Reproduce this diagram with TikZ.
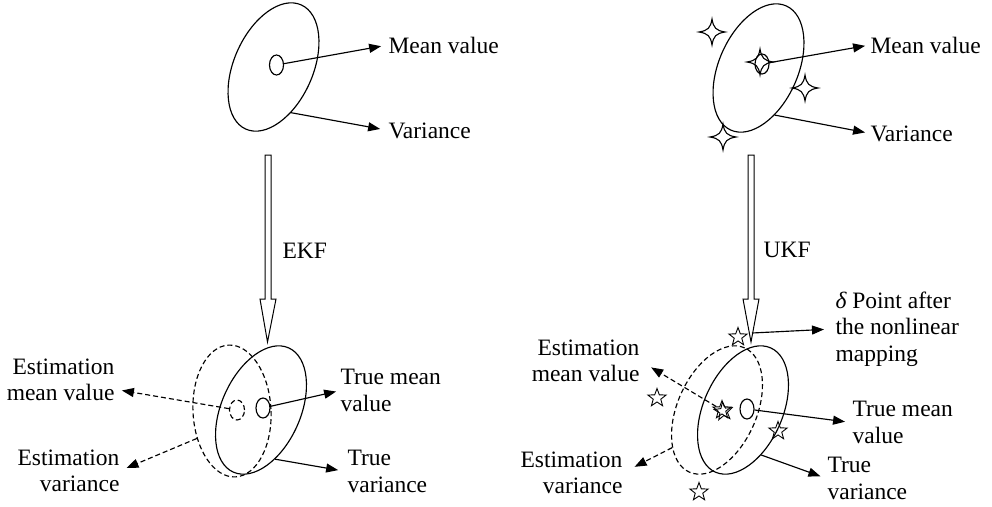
\documentclass[tikz,border=0pt]{standalone}
\usepackage{fontspec}
\setmainfont{Liberation Serif}
\usetikzlibrary{arrows.meta,shapes.geometric,calc}
\tikzset{
  spark/.pic={\draw[line width=1.1pt] (0,-13) .. controls (1.5,-4) and (4,-1.5) .. (13,0) .. controls (4,1.5) and (1.5,4) .. (0,13) .. controls (-1.5,4) and (-4,1.5) .. (-13,0) .. controls (-4,-1.5) and (-1.5,-4) .. cycle;},
}
\begin{document}
\begin{tikzpicture}[x=1pt,y=-1pt,line width=1.15pt,
  every node/.style={font=\fontsize{23.5}{26.5}\selectfont, inner sep=0pt},
  bigoval/.style={ellipse, draw, minimum width=136pt, minimum height=79pt, rotate=66},
  dot/.style={ellipse, draw, minimum width=14pt, minimum height=20pt},
  sstar/.style={star, star points=5, star point ratio=2.4, draw, minimum size=19pt, line width=0.9pt},
  dsh/.style={dash pattern=on 5pt off 3pt},
  conn/.style={-{Triangle[length=12pt,width=9pt]}},
  dconn/.style={conn, dsh},
  hollow/.style={draw, line width=1pt, line join=miter}]
\useasboundingbox (0,0) rectangle (992,506);

% ---------- top left ----------
\node[bigoval] (e1) at (273.5,67) {};
\node[dot] (m1) at (276.5,65) {};
\node[anchor=base west] (mv1) at (388,53) {Mean value};
\node[anchor=base west] (va1) at (388,138) {Variance};
\draw[conn, shorten >=7pt] (m1) -- (mv1.west);
\draw[conn, shorten >=8pt] (e1.225) -- (va1.west);

% ---------- top right ----------
\node[bigoval] (e2) at (758.5,68) {};
\node[dot] (m2) at (762,64) {};
\pic at (712,32) {spark};
\pic at (805,88) {spark};
\pic at (723,137) {spark};
\pic at (760,62) {spark};
\node[anchor=base west] (mv2) at (870,53) {Mean value};
\node[anchor=base west] (va2) at (870,141) {Variance};
\draw[conn, shorten >=5pt] (m2) -- (mv2.west);
\draw[conn, shorten >=5pt] (e2.223) -- (va2.west);

% ---------- hollow arrows ----------
\coordinate (ekfT) at (268,155);
\coordinate (ekfH) at (268,299);
\coordinate (ekfB) at (267.5,342);
\path[hollow] ($(ekfT)+(-3,0)$) -- ($(ekfT)+(3,0)$) -- ($(ekfH)+(3,0)$) -- ($(ekfH)+(8,0)$) -- (ekfB) -- ($(ekfH)+(-8,0)$) -- ($(ekfH)+(-3,0)$) -- cycle;
\node[anchor=base west] (ekf) at (282,258) {EKF};

\coordinate (ukfT) at (751,155);
\coordinate (ukfH) at (751,299);
\coordinate (ukfB) at (751,342);
\path[hollow] ($(ukfT)+(-3,0)$) -- ($(ukfT)+(3,0)$) -- ($(ukfH)+(3,0)$) -- ($(ukfH)+(8,0)$) -- (ukfB) -- ($(ukfH)+(-8,0)$) -- ($(ukfH)+(-3,0)$) -- cycle;
\node[anchor=base west] (ukf) at (763,257) {UKF};

% ---------- bottom left ----------
\node[ellipse, draw, dsh, minimum width=78pt, minimum height=132pt, rotate=3] (d3) at (232,411) {};
\node[bigoval] (e3) at (261,410) {};
\node[dot, dsh, minimum width=15pt] (dm3) at (237,410) {};
\node[dot] (m3) at (263,408) {};
\node[anchor=north east, align=right] (em3) at (115,358) {Estimation\\mean value};
\node[anchor=north east, align=right] (ev3) at (120,449) {Estimation\\variance};
\node[anchor=north west, align=left] (tm3) at (340,369) {True mean\\value};
\node[anchor=north west, align=left] (tv3) at (347,450) {True\\variance};
\draw[dconn, shorten >=7pt] (dm3) -- (em3.-10);
\draw[dconn, shorten >=7pt] (d3.215) -- (ev3.east);
\draw[conn, shorten >=4pt] (m3) -- (tm3.west);
\draw[conn, shorten >=9pt] (e3.220) -- (tv3.west);

% ---------- bottom right ----------
\node[bigoval, dsh] (d4) at (717,410) {};
\node[bigoval] (e4) at (743,410) {};
\node[dot] (m4) at (747,409) {};
\node[sstar] (s1) at (738,337) {};
\node[sstar] (s2) at (722,410) {};
\node[sstar, rotate=6] (s2b) at (723.5,411.5) {};
\node[sstar] (s3) at (778,431) {};
\node[sstar] (s4) at (657,398) {};
\node[sstar] (s5) at (699,492) {};
\node[anchor=north west, align=left] (pt4) at (835,291) {{\itshape δ} Point after\\the nonlinear\\mapping};
\node[anchor=north west, align=left] (tm4) at (852,401) {True mean\\value};
\node[anchor=north west, align=left] (tv4) at (827,457) {True\\variance};
\node[anchor=north east, align=right] (em4) at (640,339) {Estimation\\mean value};
\node[anchor=north east, align=right] (ev4) at (623,451) {Estimation\\variance};
\coordinate (p4s) at (752,333);
\draw[conn, shorten >=11pt] (p4s) -- (pt4.west);
\draw[conn, shorten >=7pt] (m4) -- (tm4.west);
\draw[conn, shorten >=7pt] (e4.226) -- (tv4.west);
\draw[dconn, shorten >=13pt] (s2) -- (em4.east);
\draw[dconn, shorten >=13pt] (d4.154) -- (ev4.east);
\end{tikzpicture}
\end{document}
